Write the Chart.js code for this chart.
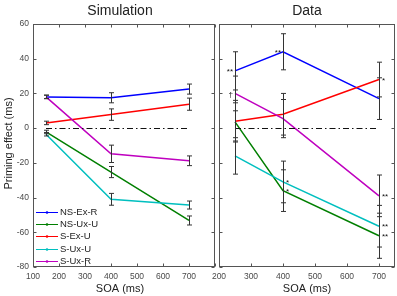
<!DOCTYPE html>
<html>
<head>
<meta charset="utf-8">
<script src="https://cdn.jsdelivr.net/npm/chart.js@4.4.0/dist/chart.umd.min.js"></script>
<style>
  html, body { margin: 0; padding: 0; background: #fff; }
  #wrap { position: relative; width: 397px; height: 296px; overflow: hidden; background: #fff; }
  canvas { position: absolute; top: 0; }
  #simChart { left: 0; width: 220px; height: 296px; }
  #dataChart { left: 200px; width: 197px; height: 296px; }
</style>
</head>
<body>
<div id="wrap">
  <canvas id="simChart" width="220" height="296"></canvas>
  <canvas id="dataChart" width="197" height="296"></canvas>
</div>
<script>
// SOA values (ms) of each panel
const simX = [150, 400, 700];
const dataX = [250, 400, 700];

const seriesNames = ['NS-Ex-R', 'NS-Ux-U', 'S-Ex-U', 'S-Ux-U', 'S-Ux-R'];
const seriesColors = ['#0000ff', '#007f00', '#ff0000', '#00bfbf', '#bf00bf'];

// Simulation: priming effect (ms) and error
const simNSExR = [18, 17.5, 22.5];
const simNSUxU = [-2.2, -25.3, -53.2];
const simSExU = [3, 7.8, 13.8];
const simSUxU = [-3.5, -41, -44.3];
const simSUxR = [18, -14.8, -18.8];
const simErrNSExR = [1, 2.9, 2.9];
const simErrNSUxU = [1, 3.2, 2.6];
const simErrSExU = [1, 3.3, 3.5];
const simErrSUxU = [1, 3.4, 2.3];
const simErrSUxR = [1, 5, 2.8];

// Data: priming effect (ms) and error
const dataNSExR = [33, 44, 17];
const dataNSUxU = [3.6, -36, -62];
const dataSExU = [4, 8, 28];
const dataSUxU = [-16, -31, -56.5];
const dataSUxR = [20, 5.5, -39];
const dataErrNSExR = [11, 10.4, 12];
const dataErrNSUxU = [11, 12, 13];
const dataErrSExU = [12, 12, 10];
const dataErrSUxU = [10.5, 12, 12];
const dataErrSUxR = [10, 11, 12];

// significance marks on the data panel, and which side of the point
const dataMarks = [['**', '**', ''], ['', '*', '**'], ['', '', '*'], ['', '*', '**'], ['\u2020', '', '**']];
const markSides = [['l', 'l', 'r'], ['r', 'r', 'r'], ['r', 'r', 'r'], ['r', 'r', 'r'], ['l', 'r', 'r']];

const yTicks = [-80, -60, -40, -20, 0, 20, 40, 60];
const simXTicks = [100, 200, 300, 400, 500, 600, 700, 800];
const dataXTicks = [200, 300, 400, 500, 600, 700];

const FONT = "'Liberation Sans', Arial, Helvetica, sans-serif";
const frameColor = '#555';
const textColor = '#222';
const tickColor = '#4a4a4a';

function makeDatasets(xs, lists) {
  return lists.map((vals, i) => ({
    label: seriesNames[i],
    data: vals.map((v, j) => ({ x: xs[j], y: v })),
    borderColor: seriesColors[i],
    backgroundColor: seriesColors[i],
    borderWidth: 1.5,
    pointRadius: 0,
    tension: 0,
    order: lists.length - i
  }));
}

// frame, inward ticks, zero line, error bars, marks, titles, legend
const panelDecor = {
  id: 'panelDecor',
  afterDraw(chart, args, o) {
    const { ctx, chartArea: a, scales: { x, y } } = chart;
    ctx.save();

    // dash-dot zero line
    ctx.strokeStyle = '#111';
    ctx.lineWidth = 1;
    ctx.setLineDash([6, 3, 1.5, 3]);
    const y0 = Math.round(y.getPixelForValue(0)) + 0.5;
    ctx.beginPath();
    ctx.moveTo(x.getPixelForValue(o.xs[0]), y0);
    ctx.lineTo(x.getPixelForValue(o.xs[o.xs.length - 1]), y0);
    ctx.stroke();
    ctx.setLineDash([]);

    // error bars
    ctx.strokeStyle = '#333';
    chart.data.datasets.forEach((ds, i) => {
      ds.data.forEach((p, j) => {
        const px = Math.round(x.getPixelForValue(p.x)) + 0.5;
        const t = y.getPixelForValue(p.y + o.errors[i][j]);
        const b = y.getPixelForValue(p.y - o.errors[i][j]);
        ctx.beginPath();
        ctx.moveTo(px, t); ctx.lineTo(px, b);
        ctx.moveTo(px - 2.5, t); ctx.lineTo(px + 2.5, t);
        ctx.moveTo(px - 2.5, b); ctx.lineTo(px + 2.5, b);
        ctx.stroke();
      });
    });

    // significance marks
    if (o.marks) {
      ctx.fillStyle = '#111';
      ctx.font = '8px ' + FONT;
      ctx.textBaseline = 'middle';
      chart.data.datasets.forEach((ds, i) => {
        ds.data.forEach((p, j) => {
          const m = o.marks[i][j];
          if (!m) return;
          const px = x.getPixelForValue(p.x);
          const py = y.getPixelForValue(p.y) + 1;
          if (o.sides[i][j] === 'l') {
            ctx.textAlign = 'right';
            ctx.fillText(m, px - 2, py);
          } else {
            ctx.textAlign = 'left';
            ctx.fillText(m, px + 3, py);
          }
        });
      });
    }

    // frame with inward ticks
    ctx.strokeStyle = frameColor;
    ctx.lineWidth = 1;
    const L = a.left + 0.5, R = a.right - 0.5, T = a.top + 0.5, B = a.bottom - 0.5;
    ctx.strokeRect(L, T, R - L, B - T);
    ctx.beginPath();
    x.ticks.forEach(t => {
      const px = Math.round(x.getPixelForValue(t.value)) + 0.5;
      ctx.moveTo(px, B); ctx.lineTo(px, B - 3);
      ctx.moveTo(px, T); ctx.lineTo(px, T + 3);
    });
    y.ticks.forEach(t => {
      const py = Math.round(y.getPixelForValue(t.value)) + 0.5;
      ctx.moveTo(L, py); ctx.lineTo(L + 3, py);
      ctx.moveTo(R, py); ctx.lineTo(R - 3, py);
    });
    ctx.stroke();

    // titles
    const cx = (a.left + a.right) / 2 + o.shift;
    ctx.fillStyle = textColor;
    ctx.textAlign = 'center';
    ctx.textBaseline = 'middle';
    ctx.font = '14px ' + FONT;
    ctx.fillText(o.title, cx, 11);
    ctx.font = '11px ' + FONT;
    ctx.fillText('SOA (ms)', cx, 289);
    if (o.yTitle) {
      ctx.save();
      ctx.translate(9, (a.top + a.bottom) / 2 - 2);
      ctx.rotate(-Math.PI / 2);
      ctx.fillText(o.yTitle, 0, 0);
      ctx.restore();
    }

    // legend inside the axes
    if (o.legend) {
      ctx.font = '9.5px ' + FONT;
      ctx.textAlign = 'left';
      chart.data.datasets.forEach((ds, i) => {
        const ly = Math.round(212 + i * 12.2) + 0.5;
        ctx.strokeStyle = ds.borderColor;
        ctx.lineWidth = 1;
        ctx.beginPath();
        ctx.moveTo(36, ly); ctx.lineTo(58, ly);
        ctx.stroke();
        ctx.fillStyle = ds.borderColor;
        ctx.beginPath();
        ctx.arc(47, ly, 1.3, 0, Math.PI * 2);
        ctx.fill();
        ctx.fillStyle = textColor;
        ctx.fillText(ds.label, 60, ly);
      });
    }
    ctx.restore();
  }
};

function makeChart(id, xs, xTicks, xMin, xMax, lists, decor, yWidth, padRight) {
  return new Chart(document.getElementById(id), {
    type: 'line',
    data: { datasets: makeDatasets(xs, lists) },
    options: {
      responsive: false,
      animation: false,
      devicePixelRatio: 1,
      layout: { padding: { top: 24, right: padRight, left: 0, bottom: 0 } },
      plugins: { legend: { display: false }, tooltip: { enabled: false }, panelDecor: decor },
      scales: {
        x: {
          type: 'linear', min: xMin, max: xMax,
          afterBuildTicks: s => { s.ticks = xTicks.map(v => ({ value: v })); },
          afterFit: s => { s.height = 29; },
          grid: { display: false, drawTicks: false }, border: { display: false },
          ticks: {
            autoSkip: false, maxRotation: 0, padding: 5, color: tickColor,
            font: { family: FONT, size: 8.5 },
            callback: v => (v === 800 ? '' : v)
          }
        },
        y: {
          min: -80, max: 60,
          afterBuildTicks: s => { s.ticks = yTicks.map(v => ({ value: v })); },
          afterFit: s => { s.width = yWidth; },
          grid: { display: false, drawTicks: false }, border: { display: false },
          ticks: { display: yWidth > 20, padding: 4, color: tickColor, font: { family: FONT, size: 8.5 } }
        }
      }
    },
    plugins: [panelDecor]
  });
}

makeChart('simChart', simX, simXTicks, 100, 800,
  [simNSExR, simNSUxU, simSExU, simSUxU, simSUxR],
  { xs: simX, errors: [simErrNSExR, simErrNSUxU, simErrSExU, simErrSUxU, simErrSUxR],
    title: 'Simulation', yTitle: 'Priming effect (ms)', legend: true, shift: -4 },
  33, 1);

makeChart('dataChart', dataX, dataXTicks, 200, 750,
  [dataNSExR, dataNSUxU, dataSExU, dataSUxU, dataSUxR],
  { xs: dataX, errors: [dataErrNSExR, dataErrNSUxU, dataErrSExU, dataErrSUxU, dataErrSUxR],
    marks: dataMarks, sides: markSides, title: 'Data', legend: false, shift: 0 },
  19, 2);
</script>
</body>
</html>
